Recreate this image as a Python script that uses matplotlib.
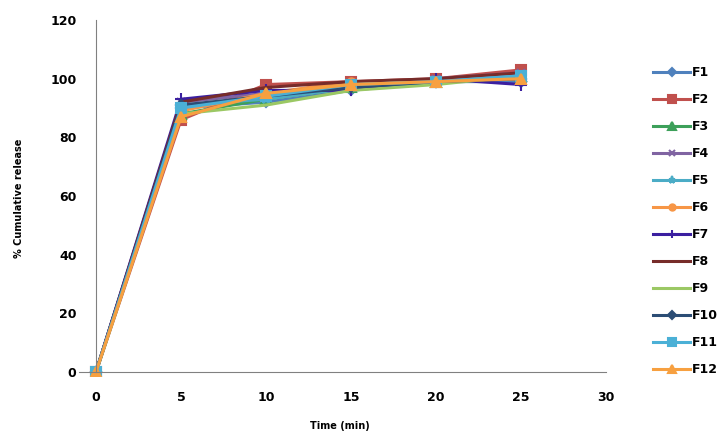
import matplotlib.pyplot as plt

# -----------------------------
# Data
# -----------------------------
time_min = [0, 5, 10, 15, 20, 25]
labels = ["F1", "F2", "F3", "F4", "F5", "F6", "F7", "F8", "F9", "F10", "F11", "F12"]

f1 = [0, 90, 92, 96, 99, 99]
f2 = [0, 86, 98, 99, 100, 103]
f3 = [0, 88, 93, 97, 99, 101]
f4 = [0, 92, 95, 98, 100, 102]
f5 = [0, 91, 93, 97, 99, 101]
f6 = [0, 89, 95, 99, 99, 100]
f7 = [0, 93, 96, 96, 100, 98]
f8 = [0, 92, 97, 99, 100, 102]
f9 = [0, 88, 91, 96, 98, 101]
f10 = [0, 91, 94, 97, 99, 100]
f11 = [0, 90, 94, 98, 99, 101]
f12 = [0, 87, 95, 98, 99, 100]
series = [f1, f2, f3, f4, f5, f6, f7, f8, f9, f10, f11, f12]

colors = ["#4F81BD", "#C0504D", "#3DA05A", "#8064A2", "#4BACC6", "#F79646",
          "#3B1FA0", "#772C2A", "#9BC864", "#2C4D75", "#4BB0D6", "#F7A040"]
markers = ["D", "s", "^", "x", "*", "o", "+", None, None, "D", "s", "^"]
msizes = [5, 7, 7, 6, 7, 6, 8, 0, 0, 5, 7, 7]

plt.rcParams["font.weight"] = "bold"

# -----------------------------
# Plot
# -----------------------------
fig = plt.figure(figsize=(7.25, 4.36), dpi=100)
ax = fig.add_axes([0.109, 0.137, 0.727, 0.817])

for y, lab, c, m, ms in zip(series, labels, colors, markers, msizes):
    ax.plot(time_min, y, color=c, marker=m, markersize=ms, linewidth=2.2,
            markeredgewidth=1.5, label=lab)

ax.set_xlim(-1, 30)
ax.set_ylim(-1.5, 120)
ax.set_xticks(range(0, 31, 5))
ax.set_yticks(range(0, 121, 20))
ax.spines["top"].set_visible(False)
ax.spines["right"].set_visible(False)
for s in ["left", "bottom"]:
    ax.spines[s].set_color("#808080")
ax.spines["left"].set_position(("data", 0))
ax.spines["left"].set_bounds(0, 120)
ax.spines["bottom"].set_position(("data", 0))
ax.tick_params(length=0, labelsize=9)
ax.tick_params(axis="x", pad=14)
ax.tick_params(axis="y", pad=14)

ax.set_xlabel("Time (min)", fontsize=7, fontweight="bold")
ax.xaxis.set_label_coords(0.495, -0.125)
ax.set_ylabel("% Cumulative release", fontsize=7, fontweight="bold")
ax.yaxis.set_label_coords(-0.105, 0.5)

fig.legend(loc="center left", bbox_to_anchor=(0.885, 0.493), frameon=False,
           prop={"weight": "bold", "size": 9}, handlelength=3.0,
           labelspacing=1.12, handletextpad=0.1, markerscale=0.75)

plt.savefig("out.png", dpi=100)
plt.close()
